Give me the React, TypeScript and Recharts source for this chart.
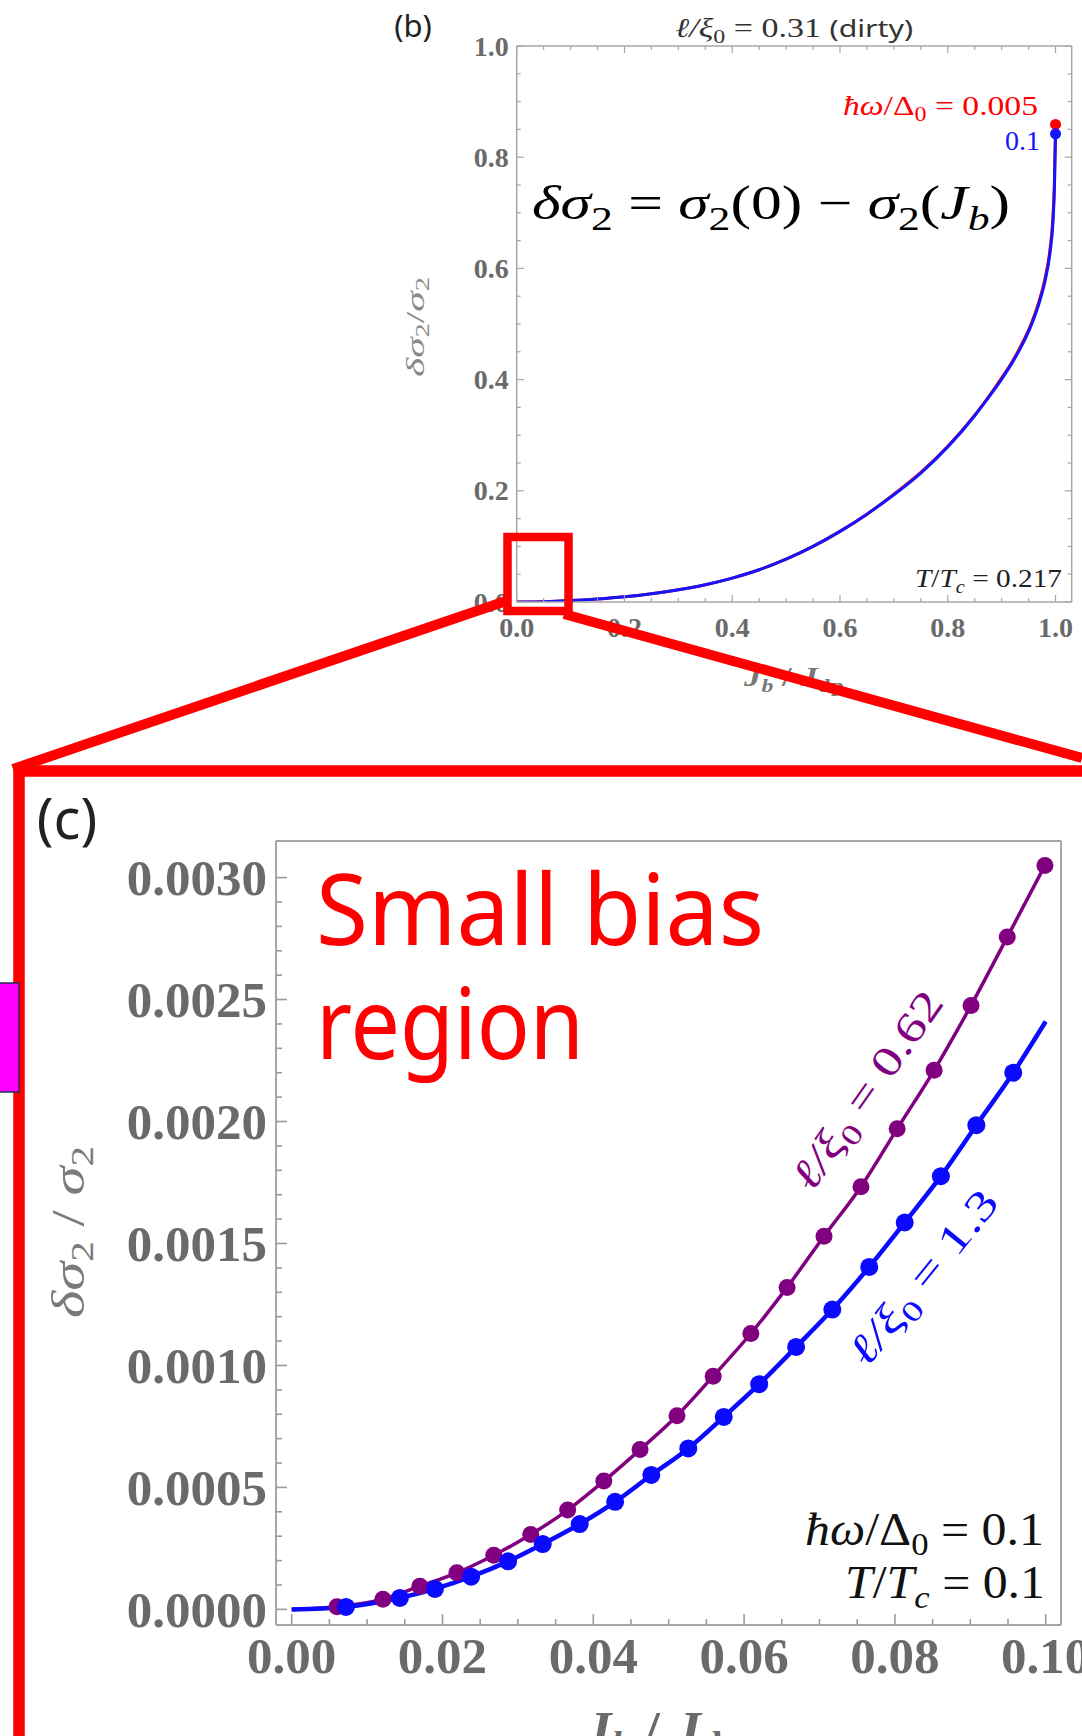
import React from 'react';
import { ComposedChart, Line, Scatter, XAxis, YAxis } from 'recharts';

// (b) whole bias range, l/xi0 = 0.31, T/Tc = 0.217
const fullBias = [0, 0.05, 0.1, 0.15, 0.2, 0.25, 0.3, 0.35, 0.4, 0.45, 0.5, 0.55, 0.6, 0.65, 0.7, 0.75, 0.8, 0.85, 0.875, 0.9, 0.92, 0.94, 0.955, 0.97, 0.98, 0.99, 0.995, 0.998, 1.0];
const fullBlue = [0, 0.0006, 0.0025, 0.0055, 0.0095, 0.015, 0.022, 0.031, 0.043, 0.058, 0.077, 0.1, 0.127, 0.158, 0.193, 0.232, 0.279, 0.335, 0.367, 0.401, 0.431, 0.466, 0.498, 0.539, 0.575, 0.63, 0.68, 0.746, 0.842]; // hw/D0 = 0.1
const fullRed = [0, 0.0006, 0.0025, 0.0055, 0.0095, 0.015, 0.022, 0.031, 0.043, 0.058, 0.077, 0.1, 0.127, 0.158, 0.194, 0.233, 0.28, 0.336, 0.368, 0.403, 0.433, 0.469, 0.501, 0.543, 0.58, 0.637, 0.69, 0.76, 0.859]; // hw/D0 = 0.005
const fullTicks = [0, 0.2, 0.4, 0.6, 0.8, 1.0];

// (c) small bias region, hw/D0 = 0.1, T/Tc = 0.1
const purpleBias = [0.006, 0.0121, 0.017, 0.0219, 0.0268, 0.0317, 0.0366, 0.0414, 0.0462, 0.0511, 0.0559, 0.0609, 0.0657, 0.0706, 0.0755, 0.0803, 0.0852, 0.0901, 0.0949, 0.0999]; // l/xi0 = 0.62
const purpleSigma = [0.000011, 0.000042, 0.000095, 0.00015, 0.000222, 0.000307, 0.000407, 0.000526, 0.000655, 0.000794, 0.000956, 0.001131, 0.00132, 0.00153, 0.001733, 0.00197, 0.00221, 0.002476, 0.002756, 0.00305];
const blueBias = [0.0072, 0.01435, 0.019, 0.0238, 0.0287, 0.0333, 0.0382, 0.0429, 0.0477, 0.0526, 0.0573, 0.062, 0.0669, 0.0717, 0.0766, 0.0813, 0.0861, 0.0908, 0.0957]; // l/xi0 = 1.3
const blueSigma = [0.00001, 0.000047, 0.000084, 0.000134, 0.000197, 0.000268, 0.00035, 0.000441, 0.000551, 0.00066, 0.000789, 0.000923, 0.001076, 0.001229, 0.001404, 0.001586, 0.001776, 0.001985, 0.0022];
const blueCurveEnd = { bias: 0.1, sigma: 0.00241 };
const smallXTicks = [0, 0.02, 0.04, 0.06, 0.08, 0.1];
const smallYTicks = [0, 0.0005, 0.001, 0.0015, 0.002, 0.0025, 0.003];

const origin = { x: 0, y: 0 };
const toPts = (xs: number[], ys: number[]) => xs.map((x, i) => ({ x, y: ys[i] }));

const fullBlueLine = toPts(fullBias, fullBlue);
const fullRedLine = toPts(fullBias, fullRed);
const purpleDots = toPts(purpleBias, purpleSigma);
const blueDots = toPts(blueBias, blueSigma);
const purpleLine = [origin, ...purpleDots];
const blueLine = [origin, ...blueDots, { x: blueCurveEnd.bias, y: blueCurveEnd.sigma }];

const withMinor = (majors: number[], step: number) => {
  const lo = majors[0];
  const hi = majors[majors.length - 1];
  const out = [...majors];
  for (let i = 0; lo + i * step <= hi + step / 100; i++) {
    const v = +(lo + i * step).toFixed(6);
    if (!majors.some((m) => Math.abs(m - v) < step / 10)) out.push(v);
  }
  return out.sort((a, b) => a - b);
};

const MATH = "'Liberation Serif', 'DejaVu Serif', serif";
const SANS = "'Noto Sans', 'DejaVu Sans', sans-serif";
const GRAY = '#6a6a6a';
const FRAME = '#a6a6a6';
const PURPLE = '#800080';
const BLUE = '#0a0aff';
const RED = '#ff0000';

type TickCfg = {
  side: 'left' | 'right' | 'top' | 'bottom';
  majors: number[];
  majorLen: number;
  minorLen: number;
  digits?: number;
  fontSize?: number;
  gap?: number;
  stroke: string;
  strokeWidth: number;
};

const frameTick = (cfg: TickCfg) => (p: any) => {
  const v = p.payload.value as number;
  const major = cfg.majors.some((m) => Math.abs(m - v) < 1e-9);
  const len = major ? cfg.majorLen : cfg.minorLen;
  const dir = { left: [1, 0], right: [-1, 0], top: [0, 1], bottom: [0, -1] }[cfg.side];
  const label = major && cfg.digits !== undefined ? v.toFixed(cfg.digits) : null;
  const fs = cfg.fontSize || 20;
  const gap = cfg.gap || 0;
  return (
    <g>
      <line x1={p.x} y1={p.y} x2={p.x + dir[0] * len} y2={p.y + dir[1] * len} stroke={cfg.stroke} strokeWidth={cfg.strokeWidth} />
      {label && cfg.side === 'left' && (
        <text x={p.x - gap} y={p.y + fs * 0.34} textAnchor="end" fontFamily={MATH} fontWeight="bold" fontSize={fs} fill={GRAY}>
          {label}
        </text>
      )}
      {label && cfg.side === 'bottom' && (
        <text x={p.x} y={p.y + gap} textAnchor="middle" fontFamily={MATH} fontWeight="bold" fontSize={fs} fill={GRAY}>
          {label}
        </text>
      )}
    </g>
  );
};

const dotShape = (r: number, fill: string) => (p: any) => <circle cx={p.cx} cy={p.cy} r={r} fill={fill} />;

const FullRangeChart = () => {
  const xt = withMinor(fullTicks, 0.05);
  const axisB = { stroke: FRAME, strokeWidth: 1.5 };
  const tk = { majors: fullTicks, majorLen: 7, minorLen: 4, stroke: FRAME, strokeWidth: 1.2 };
  return (
    <ComposedChart width={1082} height={720} margin={{ top: 45, right: 9.3, bottom: 78, left: 456.7 }}>
      <XAxis xAxisId="b" dataKey="x" type="number" domain={[0, 1.03]} ticks={xt} interval={0} allowDataOverflow
        tickSize={0} tickMargin={0} height={40} axisLine={axisB} tickLine={false}
        tick={frameTick({ ...tk, side: 'bottom', digits: 1, fontSize: 28, gap: 35 })} />
      <XAxis xAxisId="bt" orientation="top" dataKey="x" type="number" domain={[0, 1.03]} ticks={xt} interval={0} allowDataOverflow
        tickSize={0} tickMargin={0} height={1} axisLine={axisB} tickLine={false}
        tick={frameTick({ ...tk, side: 'top' })} />
      <YAxis yAxisId="b" type="number" domain={[0, 1.0]} ticks={xt.filter((t) => t <= 1.0)} interval={0} allowDataOverflow
        tickSize={0} tickMargin={0} width={60} axisLine={axisB} tickLine={false}
        tick={frameTick({ ...tk, side: 'left', digits: 1, fontSize: 28, gap: 8 })} />
      <YAxis yAxisId="br" orientation="right" type="number" domain={[0, 1.0]} ticks={xt.filter((t) => t <= 1.0)} interval={0} allowDataOverflow
        tickSize={0} tickMargin={0} width={1} axisLine={axisB} tickLine={false}
        tick={frameTick({ ...tk, side: 'right' })} />
      {/* invisible copy so that the frame axes on top / right get a scale */}
      <Line xAxisId="bt" yAxisId="br" data={fullBlueLine} dataKey="y" stroke="none" strokeWidth={0}
        dot={false} activeDot={false} isAnimationActive={false} />
      <Line xAxisId="b" yAxisId="b" data={fullRedLine} dataKey="y" type="monotone" stroke={RED} strokeWidth={3}
        dot={false} activeDot={false} isAnimationActive={false} />
      <Line xAxisId="b" yAxisId="b" data={fullBlueLine} dataKey="y" type="monotone" stroke="#1414ff" strokeWidth={3}
        dot={false} activeDot={false} isAnimationActive={false} />
      <Scatter xAxisId="b" yAxisId="b" data={fullRedLine.slice(-1)} dataKey="y" shape={dotShape(5.5, RED)} isAnimationActive={false} />
      <Scatter xAxisId="b" yAxisId="b" data={fullBlueLine.slice(-1)} dataKey="y" shape={dotShape(5.5, '#1414ff')} isAnimationActive={false} />
    </ComposedChart>
  );
};

const SmallBiasChart = () => {
  const xt = withMinor(smallXTicks, 0.005);
  const yt = withMinor(smallYTicks, 0.0001);
  const axisC = { stroke: FRAME, strokeWidth: 2 };
  const tk = { majorLen: 11, minorLen: 6, stroke: '#9a9a9a', strokeWidth: 1.6 };
  return (
    <ComposedChart width={1082} height={956} margin={{ top: 60, right: 20, bottom: 51, left: 196 }}>
      <XAxis xAxisId="c" dataKey="x" type="number" domain={[-0.00208, 0.10203]} ticks={xt} interval={0} allowDataOverflow
        tickSize={0} tickMargin={0} height={60} axisLine={axisC} tickLine={false}
        tick={frameTick({ ...tk, majors: smallXTicks, side: 'bottom', digits: 2, fontSize: 51, gap: 48 })} />
      <XAxis xAxisId="ct" orientation="top" dataKey="x" type="number" domain={[-0.00208, 0.10203]} allowDataOverflow
        height={1} axisLine={axisC} tickLine={false} tick={false} />
      <YAxis yAxisId="c" type="number" domain={[-0.000064, 0.00315]} ticks={yt} interval={0} allowDataOverflow
        tickSize={0} tickMargin={0} width={80} axisLine={axisC} tickLine={false}
        tick={frameTick({ ...tk, majors: smallYTicks, side: 'left', digits: 4, fontSize: 51, gap: 9 })} />
      <YAxis yAxisId="cr" orientation="right" type="number" domain={[-0.000064, 0.00315]} allowDataOverflow
        width={1} axisLine={axisC} tickLine={false} tick={false} />
      <Line xAxisId="ct" yAxisId="cr" data={blueLine} dataKey="y" stroke="none" strokeWidth={0}
        dot={false} activeDot={false} isAnimationActive={false} />
      <Line xAxisId="c" yAxisId="c" data={purpleLine} dataKey="y" type="monotone" stroke={PURPLE} strokeWidth={3.5}
        dot={false} activeDot={false} isAnimationActive={false} />
      <Scatter xAxisId="c" yAxisId="c" data={purpleDots} dataKey="y" shape={dotShape(8.5, PURPLE)} isAnimationActive={false} />
      <Line xAxisId="c" yAxisId="c" data={blueLine} dataKey="y" type="monotone" stroke={BLUE} strokeWidth={4.5}
        dot={false} activeDot={false} isAnimationActive={false} />
      <Scatter xAxisId="c" yAxisId="c" data={blueDots} dataKey="y" shape={dotShape(9, BLUE)} isAnimationActive={false} />
    </ComposedChart>
  );
};

const Overlay = () => {
  const it = { fontStyle: 'italic' as const };
  return (
    <svg width={1082} height={1736} style={{ position: 'absolute', left: 0, top: 0, pointerEvents: 'none' }}>
      <g style={{ whiteSpace: 'pre' }}>
        {/* panel (b) texts */}
        <text x={413} y={37} textAnchor="middle" fontFamily={SANS} fontSize={31} fill="#222">(b)</text>
        <text x={794} y={37} textAnchor="middle" fontFamily={MATH} fontSize={27} fill="#333" textLength={238} lengthAdjust="spacingAndGlyphs">
          <tspan {...it}>ℓ/ξ</tspan>
          <tspan fontSize={19} dy={6}>0</tspan>
          <tspan dy={-6}> = 0.31 </tspan>
          <tspan fontFamily={SANS} fontSize={24}>(dirty)</tspan>
        </text>
        <text x={532} y={219} fontFamily={MATH} fontSize={48} fill="#000" textLength={478} lengthAdjust="spacingAndGlyphs">
          <tspan {...it}>δσ</tspan>
          <tspan fontSize={34} dy={11}>2</tspan>
          <tspan dy={-11}> = </tspan>
          <tspan {...it}>σ</tspan>
          <tspan fontSize={34} dy={11}>2</tspan>
          <tspan dy={-11}>(0) − </tspan>
          <tspan {...it}>σ</tspan>
          <tspan fontSize={34} dy={11}>2</tspan>
          <tspan dy={-11}>(</tspan>
          <tspan {...it}>J</tspan>
          <tspan {...it} fontSize={34} dy={11}>b</tspan>
          <tspan dy={-11}>)</tspan>
        </text>
        <text x={1038} y={115} textAnchor="end" fontFamily={MATH} fontSize={28} fill={RED} textLength={195} lengthAdjust="spacingAndGlyphs">
          <tspan {...it}>ħω</tspan>
          <tspan>/Δ</tspan>
          <tspan fontSize={20} dy={6}>0</tspan>
          <tspan dy={-6}> = 0.005</tspan>
        </text>
        <text x={1040} y={150} textAnchor="end" fontFamily={MATH} fontSize={28} fill="#1414ff">0.1</text>
        <text x={1062} y={587} textAnchor="end" fontFamily={MATH} fontSize={26} fill="#222" textLength={147} lengthAdjust="spacingAndGlyphs">
          <tspan {...it}>T</tspan>
          <tspan>/</tspan>
          <tspan {...it}>T</tspan>
          <tspan {...it} fontSize={18} dy={6}>c</tspan>
          <tspan dy={-6}> = 0.217</tspan>
        </text>
        <text transform="translate(424,327) rotate(-90)" textAnchor="middle" fontFamily={MATH} fontSize={26} fill="#8a8a8a" textLength={100} lengthAdjust="spacingAndGlyphs">
          <tspan {...it}>δσ</tspan>
          <tspan fontSize={18} dy={5}>2</tspan>
          <tspan dy={-5}>/</tspan>
          <tspan {...it}>σ</tspan>
          <tspan fontSize={18} dy={5}>2</tspan>
        </text>
        <text x={794} y={686} textAnchor="middle" fontFamily={MATH} fontWeight="bold" fontSize={28} fill="#777" textLength={100} lengthAdjust="spacingAndGlyphs">
          <tspan {...it}>J</tspan>
          <tspan {...it} fontSize={19} dy={6}>b</tspan>
          <tspan dy={-6}> / </tspan>
          <tspan {...it}>J</tspan>
          <tspan fontSize={19} dy={6}>dp</tspan>
        </text>

        {/* zoom box and connectors */}
        <rect x={507.5} y={537} width={61} height={74} fill="none" stroke={RED} strokeWidth={8.5} />
        <line x1={506} y1={601} x2={13} y2={769} stroke={RED} strokeWidth={10} />
        <line x1={564} y1={614} x2={1082} y2={758} stroke={RED} strokeWidth={10} />
        <polyline points="19,1740 19,771 1090,771" fill="none" stroke={RED} strokeWidth={11.5} />
        <rect x={-2} y={983} width={21} height={109} fill="#ff00ff" stroke="#223055" strokeWidth={1.5} />

        {/* panel (c) texts */}
        <text x={67} y={839} textAnchor="middle" fontFamily={SANS} fontSize={56} fill="#222">(c)</text>
        <text x={316} y={945} fontFamily={SANS} fontSize={98} fill={RED} textLength={448} lengthAdjust="spacingAndGlyphs">Small bias</text>
        <text x={316} y={1059} fontFamily={SANS} fontSize={98} fill={RED} textLength={268} lengthAdjust="spacingAndGlyphs">region</text>
        <text transform="translate(867,1090) rotate(-55)" y={14} textAnchor="middle" fontFamily={MATH} fontSize={42} fill={PURPLE} textLength={232} lengthAdjust="spacingAndGlyphs">
          <tspan {...it}>ℓ/ξ</tspan>
          <tspan fontSize={29} dy={9}>0</tspan>
          <tspan dy={-9}> = 0.62</tspan>
        </text>
        <text transform="translate(923,1277) rotate(-51)" y={14} textAnchor="middle" fontFamily={MATH} fontSize={42} fill={BLUE} textLength={212} lengthAdjust="spacingAndGlyphs">
          <tspan {...it}>ℓ/ξ</tspan>
          <tspan fontSize={29} dy={9}>0</tspan>
          <tspan dy={-9}> = 1.3</tspan>
        </text>
        <text x={1044} y={1545} textAnchor="end" fontFamily={MATH} fontSize={46} fill="#111" textLength={239} lengthAdjust="spacingAndGlyphs">
          <tspan {...it}>ħω</tspan>
          <tspan>/Δ</tspan>
          <tspan fontSize={32} dy={10}>0</tspan>
          <tspan dy={-10}> = 0.1</tspan>
        </text>
        <text x={1045} y={1598} textAnchor="end" fontFamily={MATH} fontSize={46} fill="#111" textLength={200} lengthAdjust="spacingAndGlyphs">
          <tspan {...it}>T</tspan>
          <tspan>/</tspan>
          <tspan {...it}>T</tspan>
          <tspan {...it} fontSize={32} dy={10}>c</tspan>
          <tspan dy={-10}> = 0.1</tspan>
        </text>
        <text transform="translate(84,1232) rotate(-90)" textAnchor="middle" fontFamily={MATH} fontSize={46} fill="#7a7a7a" textLength={172} lengthAdjust="spacingAndGlyphs">
          <tspan {...it}>δσ</tspan>
          <tspan fontSize={32} dy={9}>2</tspan>
          <tspan dy={-9}> / </tspan>
          <tspan {...it}>σ</tspan>
          <tspan fontSize={32} dy={9}>2</tspan>
        </text>
        <text x={664} y={1746} textAnchor="middle" fontFamily={MATH} fontWeight="bold" fontSize={50} fill="#6a6a6a" textLength={160} lengthAdjust="spacingAndGlyphs">
          <tspan {...it}>J</tspan>
          <tspan {...it} fontSize={35} dy={10}>b</tspan>
          <tspan dy={-10}> / </tspan>
          <tspan {...it}>J</tspan>
          <tspan fontSize={35} dy={10}>dp</tspan>
        </text>
      </g>
    </svg>
  );
};

const App: React.FC = () => {
  return (
    <div style={{ position: 'absolute', left: 0, top: 0, width: 1082, height: 1736, background: '#fff', overflow: 'hidden' }}>
      <div style={{ position: 'absolute', left: 0, top: 0 }}>
        <FullRangeChart />
      </div>
      <div style={{ position: 'absolute', left: 0, top: 780 }}>
        <SmallBiasChart />
      </div>
      <Overlay />
    </div>
  );
};

export default App;
